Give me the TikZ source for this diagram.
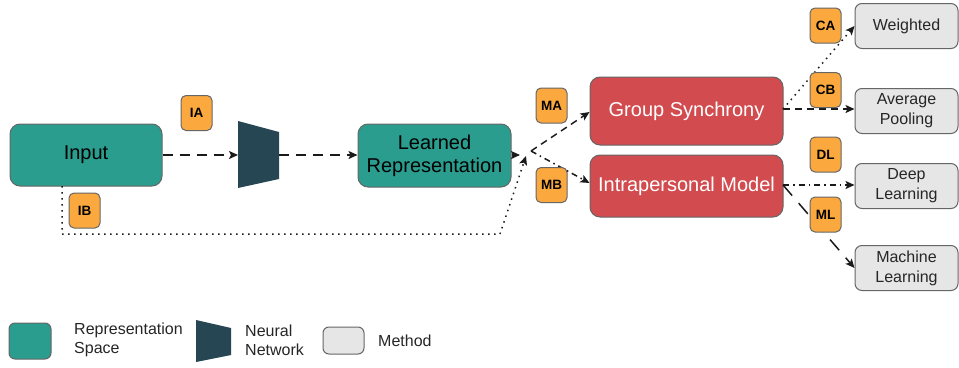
\documentclass[tikz,border=0pt]{standalone}
\usepackage{fontspec}
\setmainfont{Liberation Sans}
\usetikzlibrary{arrows.meta,calc}
\definecolor{teal}{HTML}{2A9D8F}
\definecolor{slate}{HTML}{264653}
\definecolor{redbox}{HTML}{D24B4F}
\definecolor{orangebadge}{HTML}{FBA93F}
\definecolor{graybox}{HTML}{E6E6E6}
\definecolor{bordergray}{HTML}{666666}
\definecolor{edgec}{HTML}{1A1A1A}
\tikzset{
  repbox/.style={draw=bordergray,line width=1pt,fill=teal,rounded corners=10pt,inner sep=0pt,align=center,font=\fontsize{20}{23}\selectfont,text=black},
  modbox/.style={draw=bordergray,line width=1pt,fill=redbox,rounded corners=10pt,inner sep=0pt,align=center,font=\fontsize{20}{23}\selectfont,text=white,minimum width=193pt},
  methbox/.style={draw=bordergray,line width=1pt,fill=graybox,rounded corners=7pt,inner sep=0pt,align=center,font=\fontsize{16}{20}\selectfont,text=black!85,minimum width=103pt,minimum height=45pt},
  badge/.style={draw=bordergray,line width=1pt,fill=orangebadge,rounded corners=5pt,inner sep=0pt,minimum width=31pt,minimum height=35pt,font=\fontsize{13.5}{16}\bfseries\selectfont},
  legtext/.style={inner sep=0pt,anchor=west,align=left,font=\fontsize{16}{19}\selectfont,text=black!85},
  conn/.style={draw=edgec,line width=1.5pt,-{Stealth[length=9pt,width=8pt,inset=2pt]}},
  dashA/.style={dash pattern=on 10pt off 7pt},
  dashB/.style={dash pattern=on 7pt off 5pt},
  dashL/.style={dash pattern=on 14pt off 10pt},
  dashdot/.style={dash pattern=on 6pt off 4pt on 1.5pt off 4pt},
  dotline/.style={dash pattern=on 1.5pt off 4.5pt},
}
\begin{document}
\begin{tikzpicture}[x=1pt,y=-1pt]
\useasboundingbox (0,0) rectangle (959,367);
\fill[white] (0,0) rectangle (959,367);

% main nodes
\node[repbox,minimum width=152pt,minimum height=62pt] (inp) at (86,155) {Input};
\node[repbox,minimum width=153pt,minimum height=63pt] (lrn) at (434.5,155.5) {Learned\\Representation};
\node[modbox,minimum height=68pt] (gs) at (686.5,111) {Group Synchrony};
\node[modbox,minimum height=62pt] (im) at (686.5,186) {Intrapersonal Model};

\node[methbox] (wt) at (906.5,26) {Weighted};
\node[methbox] (ap) at (906.5,111) {Average\\Pooling};
\node[methbox] (dl) at (906.5,186) {Deep\\Learning};
\node[methbox] (ml) at (906.5,268) {Machine\\Learning};

% neural network
\fill[slate] (238,121) -- (279,132) -- (279,179) -- (238,188) -- cycle;
\coordinate (nnw) at (238,155);
\coordinate (nne) at (279,155);

% coordinates
\coordinate (lrtip) at (520,155);
\coordinate (jn) at (531,151);
\coordinate (ibs) at (62,186);
\coordinate (ib1) at (62,234);
\coordinate (ib2) at (500,234);
\coordinate (ibtip) at (526,156);
\coordinate (gse) at (783,109);
\coordinate (ime) at (783,185);

% connectors
\draw[conn,dashA] (inp.east) -- (nnw);
\draw[conn,dashA] (nne) -- (lrn.west |- nne);
\draw[conn] (lrn.east |- lrtip) -- (lrtip);
\draw[conn,dotline] (ibs) -- (ib1) -- (ib2) -- (ibtip);
\draw[conn,dashB] (jn) -- (gs.west |- 0,112);
\draw[conn,dashdot] (jn) -- (im.west |- 0,183);
\draw[conn,dotline] (gse) -- (wt.west);
\draw[conn,dashB] (gse) -- (ap.west |- gse);
\draw[conn,dashdot] (ime) -- (dl.west |- ime);
\draw[conn,dashL] (ime) -- (ml.west);

% badges (on top of connectors)
\node[badge] (ia) at (196.5,113) {IA};
\node[badge] (ib) at (84.5,210.5) {IB};
\node[badge] (ma) at (551.5,105.5) {MA};
\node[badge] (mb) at (551.5,185) {MB};
\node[badge] (ca) at (825.5,25.5) {CA};
\node[badge] (cb) at (825.5,90) {CB};
\node[badge] (dlb) at (825.5,154.5) {DL};
\node[badge] (mlb) at (825.5,214.5) {ML};

% legend
\node[draw=bordergray,line width=1pt,fill=teal,rounded corners=6pt,minimum width=42pt,minimum height=36pt,inner sep=0pt] (lg1) at (30,341) {};
\node[legtext] (lt1) at (74,340) {Representation\\Space};
\fill[slate] (196,320) -- (231,328) -- (231,355) -- (196,362) -- cycle;
\node[legtext] (lt2) at (245,340) {Neural\\Network};
\node[draw=bordergray,line width=1pt,fill=graybox,rounded corners=6pt,minimum width=41pt,minimum height=27pt,inner sep=0pt] (lg3) at (343.5,340.5) {};
\node[legtext] (lt3) at (378,341) {Method};
\end{tikzpicture}
\end{document}
